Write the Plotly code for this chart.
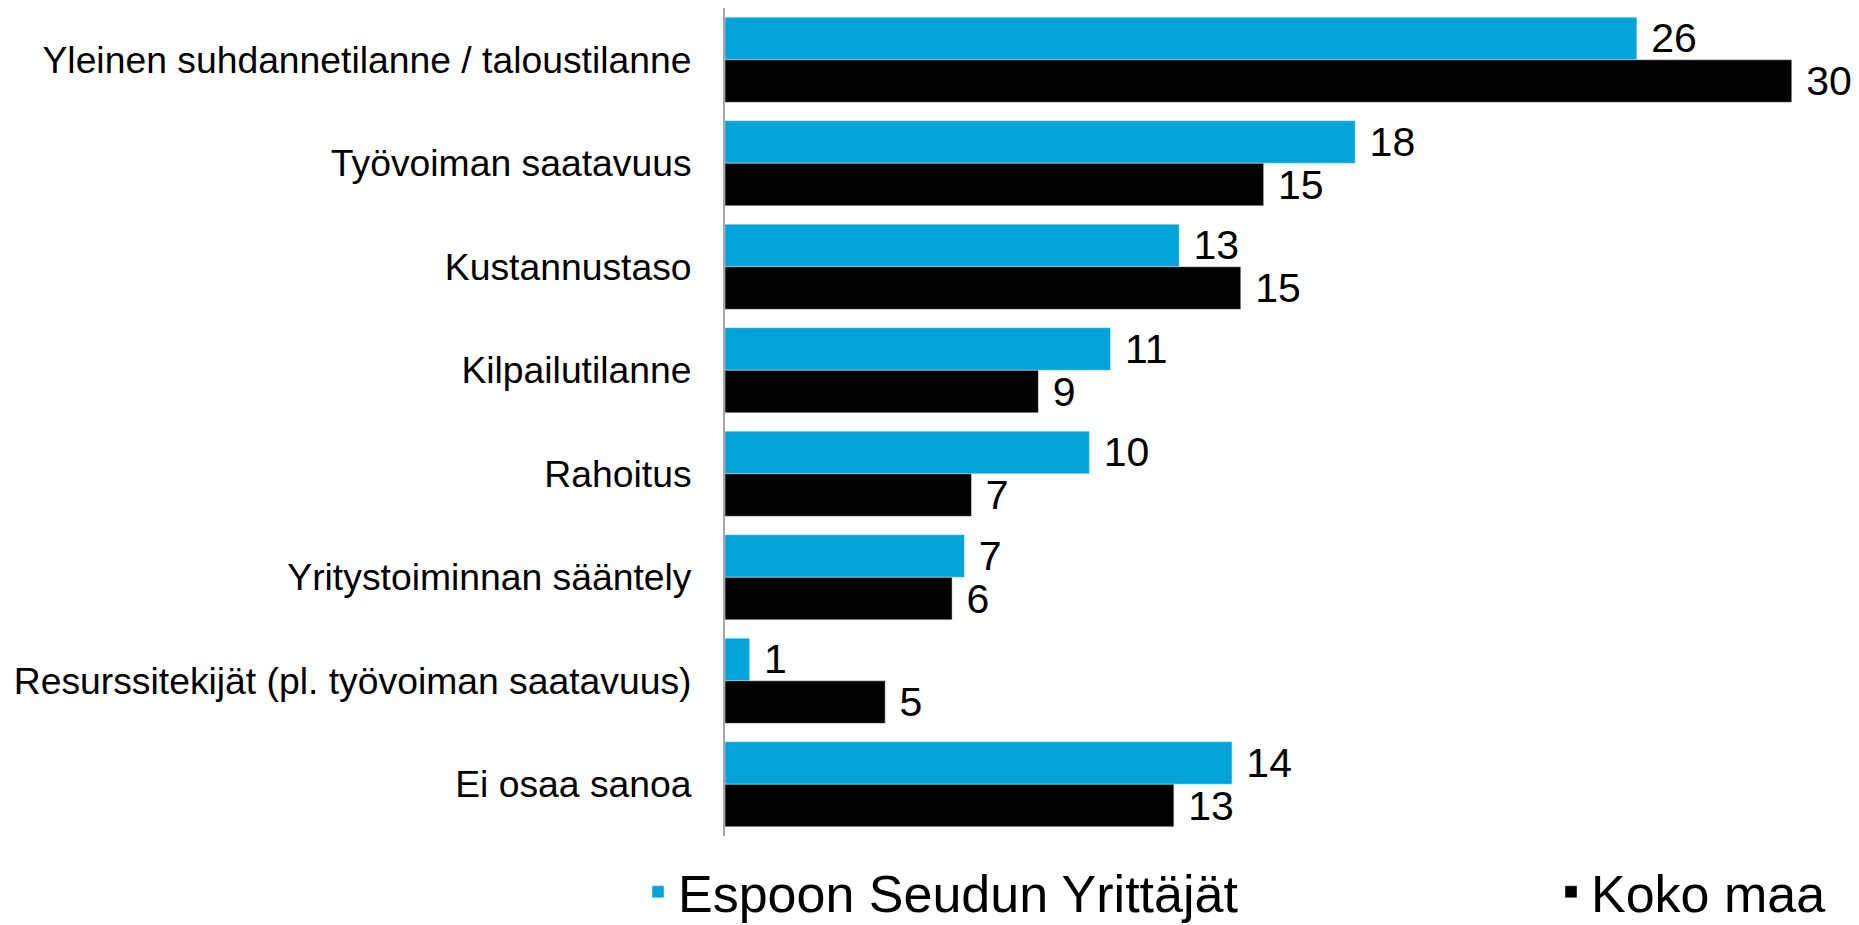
import plotly.graph_objects as go

categories = [
    "Yleinen suhdannetilanne / taloustilanne",
    "Työvoiman saatavuus",
    "Kustannustaso",
    "Kilpailutilanne",
    "Rahoitus",
    "Yritystoiminnan sääntely",
    "Resurssitekijät (pl. työvoiman saatavuus)",
    "Ei osaa sanoa",
]
espoo = [25.9, 17.9, 12.9, 10.95, 10.35, 6.8, 0.7, 14.4]
koko_maa = [30.3, 15.3, 14.65, 8.9, 7.0, 6.45, 4.55, 12.75]

FONT = "Arial, Liberation Sans, sans-serif"
W, H = 1851, 917  # page body keeps an 8 px margin

fig = go.Figure()
fig.add_trace(go.Bar(y=categories, x=espoo, orientation="h",
                     name="Espoon Seudun Yrittäjät", legend="legend",
                     marker=dict(color="#00A4DA"),
                     texttemplate="\u00a0%{x:.0f}", textposition="outside",
                     textfont=dict(size=41, color="black", family=FONT),
                     constraintext="none", cliponaxis=False))
fig.add_trace(go.Bar(y=categories, x=koko_maa, orientation="h",
                     name="Koko maa", legend="legend2",
                     marker=dict(color="#000000"),
                     texttemplate="\u00a0%{x:.0f}", textposition="outside",
                     textfont=dict(size=41, color="black", family=FONT),
                     constraintext="none", cliponaxis=False))

legend_style = dict(orientation="h", xref="container", yref="container",
                    xanchor="left", y=1 - 884 / H, yanchor="middle",
                    font=dict(size=52, color="black", family=FONT),
                    bgcolor="rgba(0,0,0,0)")

fig.update_layout(
    width=W, height=H,
    margin=dict(l=717, r=25, t=0, b=89, autoexpand=False),
    paper_bgcolor="white", plot_bgcolor="white",
    barmode="group", bargap=0.177, bargroupgap=0,
    font=dict(family=FONT, color="black"),
    showlegend=True,
    legend=dict(x=630 / W, **legend_style),
    legend2=dict(x=1543 / W, **legend_style),
)
fig.update_xaxes(visible=False, range=[0, 31.5], showgrid=False, zeroline=False)
fig.update_yaxes(autorange="reversed", showgrid=False, zeroline=False,
                 showline=True, linecolor="#A6A6A6", linewidth=2,
                 ticks="", ticklabelstandoff=24,
                 tickfont=dict(size=37.3, color="black", family=FONT))

fig.write_html("out.html")
